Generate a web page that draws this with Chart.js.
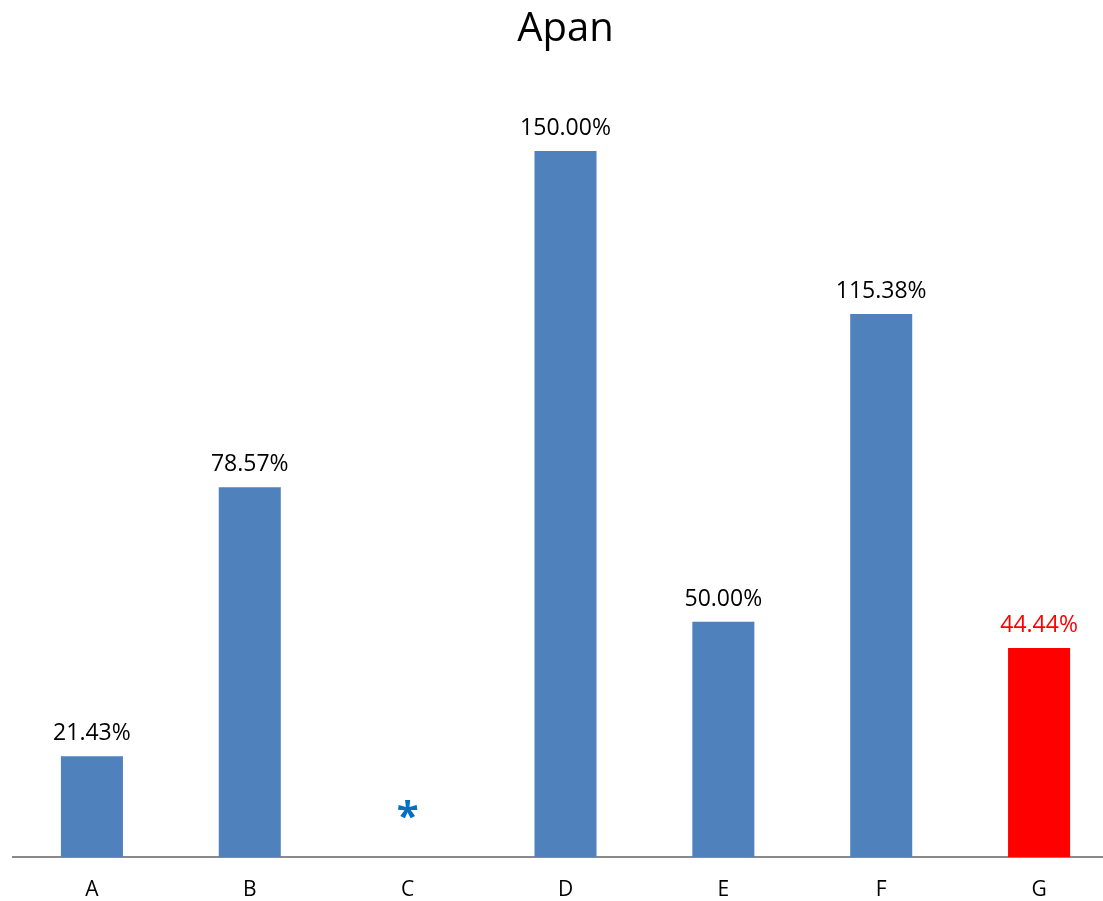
<!DOCTYPE html>
<html>
<head>
<meta charset="utf-8">
<script src="https://cdn.jsdelivr.net/npm/chart.js@4.4.1/dist/chart.umd.min.js"></script>
<style>
  html, body { margin: 0; padding: 0; background: #fff; overflow: hidden; }
  #wrap { position: absolute; left: 0; top: 0; width: 1131px; height: 922px; }
</style>
</head>
<body>
<div id="wrap"><canvas id="chart"></canvas></div>
<script>
// chart data
const categories = ['A', 'B', 'C', 'D', 'E', 'F', 'G'];
const values = [21.43, 78.57, null, 150.00, 50.00, 115.38, 44.44];
const barColors = ['#4F81BD', '#4F81BD', '#4F81BD', '#4F81BD', '#4F81BD', '#4F81BD', '#FF0000'];
const labelColors = ['#000000', '#000000', '#000000', '#000000', '#000000', '#000000', '#FF0000'];
const markers = ['', '', '*', '', '', '', ''];   // no data -> asterisk
const FONT = '"Open Sans", "DejaVu Sans", sans-serif';

// value labels above bars + asterisk for missing values
const barLabels = {
    id: 'barLabels',
    afterDatasetsDraw(chart) {
        const ctx = chart.ctx;
        const meta = chart.getDatasetMeta(0);
        const yScale = chart.scales.y;
        ctx.save();
        meta.data.forEach((bar, i) => {
            if (values[i] !== null) {
                ctx.font = '23px ' + FONT;
                ctx.fillStyle = labelColors[i];
                ctx.textAlign = 'center';
                ctx.textBaseline = 'alphabetic';
                ctx.fillText(values[i].toFixed(2) + '%', bar.x, bar.y - 16);
            } else if (markers[i]) {
                ctx.font = 'bold 40px ' + FONT;
                ctx.fillStyle = '#0070C0';
                ctx.textAlign = 'center';
                ctx.textBaseline = 'alphabetic';
                const m = ctx.measureText(markers[i]);
                const cy = yScale.getPixelForValue(0) - 48;
                const base = cy + (m.actualBoundingBoxAscent - m.actualBoundingBoxDescent) / 2;
                ctx.fillText(markers[i], bar.x, base);
            }
        });
        ctx.restore();
    }
};

new Chart(document.getElementById('chart'), {
    type: 'bar',
    data: {
        labels: categories,
        datasets: [{
            data: values,
            backgroundColor: barColors,
            borderWidth: 0,
            barPercentage: 1,
            categoryPercentage: 0.393
        }]
    },
    options: {
        responsive: true,
        maintainAspectRatio: false,
        animation: false,
        layout: { padding: { left: 13, right: 13, top: 0, bottom: 0 } },
        plugins: {
            legend: { display: false },
            tooltip: { enabled: false },
            title: {
                display: true,
                text: 'Apan',
                color: '#000',
                font: { family: FONT, size: 40, weight: 'normal', lineHeight: 1.2 },
                padding: { top: 6, bottom: 50 }
            }
        },
        scales: {
            x: {
                grid: { display: false, drawTicks: false },
                border: { display: true, color: '#898989', width: 2 },
                ticks: {
                    color: '#000',
                    padding: 19.8,
                    font: { family: FONT, size: 21, lineHeight: 1.2 }
                }
            },
            y: {
                display: false,
                min: 0,
                max: 160
            }
        }
    },
    plugins: [barLabels]
});
</script>
</body>
</html>
